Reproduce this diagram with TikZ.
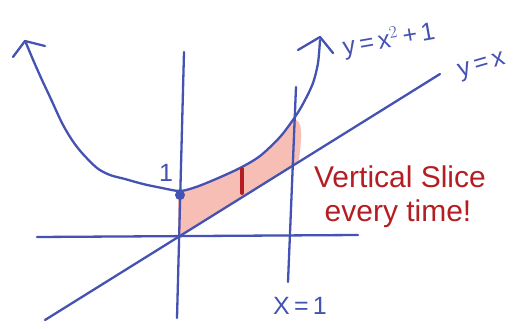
\documentclass[tikz,border=0pt]{standalone}
\usepackage{fontspec}
\setmainfont{Liberation Sans}
\definecolor{pen}{RGB}{68,82,178}
\definecolor{ink}{RGB}{180,30,35}
\definecolor{pinkfill}{RGB}{247,190,182}
\begin{document}
\begin{tikzpicture}[x=1pt,y=-1pt,
  penline/.style={draw=pen,line width=2.3pt,line cap=round,line join=round},
  penlabel/.style={text=pen,font=\fontsize{25}{28}\selectfont,inner sep=0pt},
  inklabel/.style={text=ink,font=\fontsize{30}{34}\selectfont,inner sep=0pt}]
\useasboundingbox (0,0) rectangle (522,329);
% shaded region
\fill[pinkfill] (178,238) -- (178,192) .. controls (200,187) and (225,176) .. (240,168)
  .. controls (260,157) and (280,140) .. (293,120)
  .. controls (303,118) and (302,135) .. (299,160) -- (293,166) -- cycle;
% axes
\coordinate (xl) at (37,237); \coordinate (xr) at (358,235);
\coordinate (yt) at (184,52); \coordinate (yb) at (177,318);
\draw[penline] (xl) -- (xr);
\draw[penline] (yt) -- (yb);
% x = 1
\coordinate (ot) at (296,87); \coordinate (ob) at (288,282);
\draw[penline] (ot) -- (ob);
% y = x
\coordinate (dl) at (45,320); \coordinate (dr) at (440,74);
\draw[penline] (dl) -- (dr);
% parabola
\draw[penline] plot[smooth,tension=0.5] coordinates {(26,43) (34,62) (42,80) (50,97) (62,123) (72,140) (82,153) (97,168) (110,175) (125,179) (143,184) (162,188) (180,191) (196,187) (216,179) (240,168) (260,156) (280,137) (295,117) (304,102) (313,83) (318,63) (320,40)};
\draw[penline] (13,57) -- (25,41) -- (45,46);
\draw[penline] (298,50) -- (320,37) -- (333,53);
% slice
\draw[draw=ink,line width=4pt,line cap=round] (242,169) -- (242,193);
% point
\fill[pen] (180,195) circle (5);
% labels
\node[penlabel] (one) at (166,173) {1};
\node[penlabel,rotate=10] (par) at (389,40) {y\,=\,x$^2$\,+\,1};
\node[penlabel,rotate=16] (lin) at (482,67) {y\,=\,x};
\node[penlabel] (xeq) at (300,306) {X\,=\,1};
\node[inklabel] (t1) at (400,177) {Vertical Slice};
\node[inklabel] (t2) at (398,214) {every time!};
\end{tikzpicture}
\end{document}
